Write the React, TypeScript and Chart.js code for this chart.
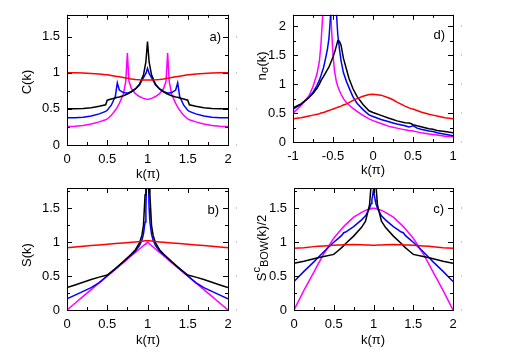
import React, { useEffect, useRef } from "react";
import { Chart, registerables } from "chart.js";

Chart.register(...registerables);

const FONT = "'Liberation Sans', Arial, Helvetica, sans-serif";

// ---------- Panel a: C(k) ----------
const aK = [0, 0.1, 0.2, 0.3, 0.4, 0.48, 0.5, 0.55, 0.6, 0.625, 0.65, 0.7, 0.73, 0.75, 0.77, 0.8, 0.85, 0.9, 0.95, 0.98, 1, 1.02, 1.05, 1.1, 1.15, 1.2, 1.23, 1.25, 1.27, 1.3, 1.35, 1.375, 1.4, 1.45, 1.5, 1.52, 1.6, 1.7, 1.8, 1.9, 2];
const aRed = [1.0, 1.0, 0.995, 0.99, 0.98, 0.972, 0.97, 0.962, 0.952, 0.947, 0.942, 0.932, 0.926, 0.922, 0.918, 0.912, 0.905, 0.901, 0.9, 0.9, 0.9, 0.9, 0.9, 0.901, 0.905, 0.912, 0.918, 0.922, 0.926, 0.932, 0.942, 0.947, 0.952, 0.962, 0.97, 0.972, 0.98, 0.99, 0.995, 1.0, 1.0];
const aBlack = [0.5, 0.5, 0.505, 0.515, 0.535, 0.556, 0.62, 0.635, 0.65, 0.66, 0.665, 0.68, 0.695, 0.705, 0.715, 0.735, 0.775, 0.84, 0.97, 1.15, 1.43, 1.15, 0.97, 0.84, 0.775, 0.735, 0.715, 0.705, 0.695, 0.68, 0.665, 0.66, 0.65, 0.635, 0.62, 0.556, 0.535, 0.515, 0.505, 0.5, 0.5];
const aBlue = [0.375, 0.378, 0.385, 0.4, 0.43, 0.465, 0.48, 0.55, 0.67, 0.86, 0.76, 0.725, 0.72, 0.72, 0.725, 0.74, 0.775, 0.83, 0.93, 0.99, 1.06, 0.99, 0.93, 0.83, 0.775, 0.74, 0.725, 0.72, 0.72, 0.725, 0.76, 0.86, 0.67, 0.55, 0.48, 0.465, 0.43, 0.4, 0.385, 0.378, 0.375];
const aMagenta = [0.255, 0.26, 0.27, 0.29, 0.32, 0.35, 0.36, 0.41, 0.48, 0.525, 0.575, 0.7, 0.88, 1.27, 0.88, 0.78, 0.71, 0.67, 0.645, 0.635, 0.63, 0.635, 0.645, 0.67, 0.71, 0.78, 0.88, 1.27, 0.88, 0.7, 0.575, 0.525, 0.48, 0.41, 0.36, 0.35, 0.32, 0.29, 0.27, 0.26, 0.255];

// ---------- Panel b: S(k) ----------
const bK = [0, 0.1, 0.2, 0.3, 0.4, 0.5, 0.6, 0.7, 0.8, 0.85, 0.9, 0.93, 0.95, 0.97, 0.98, 0.99, 1, 1.01, 1.02, 1.03, 1.05, 1.07, 1.1, 1.15, 1.2, 1.3, 1.4, 1.5, 1.6, 1.7, 1.8, 1.9, 2];
const bRed = [0.92, 0.93, 0.94, 0.95, 0.96, 0.97, 0.98, 0.99, 1.0, 1.005, 1.01, 1.015, 1.018, 1.02, 1.02, 1.02, 1.02, 1.02, 1.02, 1.02, 1.018, 1.015, 1.01, 1.005, 1.0, 0.99, 0.98, 0.97, 0.96, 0.95, 0.94, 0.93, 0.92];
const bBlack = [0.33, 0.37, 0.41, 0.45, 0.485, 0.515, 0.61, 0.715, 0.825, 0.89, 0.99, 1.1, 1.25, 1.7, 2.1, 2.6, 3.5, 2.6, 2.1, 1.7, 1.25, 1.1, 0.99, 0.89, 0.825, 0.715, 0.61, 0.515, 0.485, 0.45, 0.41, 0.37, 0.33];
const bBlue = [0.165, 0.22, 0.275, 0.33, 0.405, 0.505, 0.605, 0.71, 0.815, 0.87, 0.95, 1.03, 1.12, 1.3, 1.5, 2.0, 3.0, 2.0, 1.5, 1.3, 1.12, 1.03, 0.95, 0.87, 0.815, 0.71, 0.605, 0.505, 0.405, 0.33, 0.275, 0.22, 0.165];
const bMagenta = [0, 0.1, 0.2, 0.3, 0.4, 0.5, 0.6, 0.7, 0.8, 0.85, 0.9, 0.93, 0.95, 0.97, 0.98, 0.99, 1.0, 0.99, 0.98, 0.97, 0.95, 0.93, 0.9, 0.85, 0.8, 0.7, 0.6, 0.5, 0.4, 0.3, 0.2, 0.1, 0];

// ---------- Panel c: S^c_BOW(k)/2 ----------
const cK = [0, 0.125, 0.25, 0.3, 0.375, 0.5, 0.55, 0.6, 0.625, 0.65, 0.75, 0.85, 0.9, 0.95, 0.97, 0.98, 0.99, 1, 1.01, 1.02, 1.03, 1.05, 1.1, 1.15, 1.25, 1.35, 1.375, 1.4, 1.45, 1.5, 1.625, 1.7, 1.75, 1.875, 2];
const cRed = [0.91, 0.92, 0.935, 0.94, 0.945, 0.955, 0.958, 0.96, 0.962, 0.963, 0.965, 0.962, 0.96, 0.958, 0.957, 0.957, 0.957, 0.957, 0.957, 0.957, 0.957, 0.958, 0.96, 0.962, 0.965, 0.963, 0.962, 0.96, 0.958, 0.955, 0.945, 0.94, 0.935, 0.92, 0.91];
const cBlack = [0.69, 0.72, 0.755, 0.77, 0.79, 0.82, 0.87, 0.92, 0.95, 0.98, 1.09, 1.22, 1.31, 1.55, 1.85, 2.1, 2.4, 2.8, 2.4, 2.1, 1.85, 1.55, 1.31, 1.22, 1.09, 0.98, 0.95, 0.92, 0.87, 0.82, 0.79, 0.77, 0.755, 0.72, 0.69];
const cBlue = [0.42, 0.57, 0.71, 0.77, 0.86, 1.0, 1.05, 1.1, 1.14, 1.15, 1.23, 1.33, 1.39, 1.5, 1.57, 1.63, 1.7, 1.78, 1.7, 1.63, 1.57, 1.5, 1.39, 1.33, 1.23, 1.15, 1.14, 1.1, 1.05, 1.0, 0.86, 0.77, 0.71, 0.57, 0.42];
const cMagenta = [0, 0.29, 0.56, 0.67, 0.83, 1.06, 1.13, 1.2, 1.23, 1.26, 1.37, 1.44, 1.47, 1.49, 1.495, 1.498, 1.5, 1.5, 1.5, 1.498, 1.495, 1.49, 1.47, 1.44, 1.37, 1.26, 1.23, 1.2, 1.13, 1.06, 0.83, 0.67, 0.56, 0.29, 0];

// ---------- Panel d: n_sigma(k) ----------
const dK = [-1, -0.9, -0.8, -0.75, -0.7, -0.67, -0.65, -0.62, -0.6, -0.57, -0.55, -0.52, -0.5, -0.48, -0.46, -0.44, -0.42, -0.4, -0.37, -0.33, -0.3, -0.25, -0.2, -0.125, -0.05, 0, 0.1, 0.2, 0.25, 0.3, 0.4, 0.45, 0.48, 0.5, 0.55, 0.6, 0.7, 0.75, 0.8, 0.9, 1];
const dRed = [0.4, 0.42, 0.45, 0.465, 0.48, 0.49, 0.5, 0.51, 0.52, 0.535, 0.545, 0.56, 0.57, 0.58, 0.59, 0.6, 0.61, 0.62, 0.64, 0.66, 0.68, 0.72, 0.75, 0.79, 0.82, 0.825, 0.81, 0.76, 0.73, 0.69, 0.62, 0.59, 0.575, 0.57, 0.545, 0.52, 0.48, 0.465, 0.45, 0.42, 0.4];
const dBlack = [0.59, 0.66, 0.77, 0.84, 0.93, 1.0, 1.06, 1.13, 1.18, 1.25, 1.3, 1.4, 1.47, 1.55, 1.65, 1.75, 1.74, 1.68, 1.45, 1.25, 1.1, 0.92, 0.79, 0.65, 0.54, 0.51, 0.46, 0.41, 0.39, 0.365, 0.335, 0.33, 0.315, 0.3, 0.28, 0.265, 0.23, 0.22, 0.2, 0.18, 0.16];
const dBlue = [0.57, 0.65, 0.77, 0.86, 0.98, 1.07, 1.15, 1.28, 1.4, 1.6, 1.8, 2.4, 3.5, 3.0, 2.3, 1.85, 1.62, 1.41, 1.2, 1.04, 0.94, 0.78, 0.67, 0.56, 0.47, 0.44, 0.39, 0.35, 0.33, 0.31, 0.28, 0.26, 0.27, 0.285, 0.24, 0.22, 0.19, 0.18, 0.16, 0.135, 0.11];
const dMagenta = [0.5, 0.63, 0.8, 0.96, 1.18, 1.4, 1.7, 2.4, 4.0, 4.0, 3.0, 2.0, 1.5, 1.22, 1.06, 0.96, 0.89, 0.83, 0.75, 0.68, 0.64, 0.58, 0.53, 0.46, 0.4, 0.37, 0.32, 0.27, 0.255, 0.24, 0.21, 0.2, 0.195, 0.19, 0.175, 0.16, 0.14, 0.13, 0.12, 0.1, 0.09];

// ---------- ticks ----------
const kTicks02 = [0, 0.5, 1, 1.5, 2];
const kMinor02 = [0.25, 0.75, 1.25, 1.75];
const kTicksPm1 = [-1, -0.5, 0, 0.5, 1];
const kMinorPm1 = [-0.75, -0.25, 0.25, 0.75];
const yTicks18 = [0, 0.5, 1, 1.5];
const yMinor18 = [0.25, 0.75, 1.25, 1.75];
const yTicks22 = [0, 0.5, 1, 1.5, 2];
const yMinor22 = [0.25, 0.75, 1.25, 1.75];

const RED = "#ff0000";
const BLACK = "#000000";
const BLUE = "#0000ff";
const MAGENTA = "#ff00ff";

type Seg = { t: string; size?: number; dy?: number };

type PanelCfg = {
  plot: { l: number; r: number; t: number; b: number };
  k: number[];
  series: number[][];
  xMin: number;
  xMax: number;
  yMax: number;
  xTicks: number[];
  xMinor: number[];
  yTicks: number[];
  yMinor: number[];
  yTitle: Seg[];
  yTitlePos: [number, number];
  xTitlePos: [number, number];
  tag: string;
  tagPos: [number, number];
  dotX: number;
};

const W = 506;
const H = 354;
const FS = 13;
const AXW = 40;

function drawSegs(ctx: CanvasRenderingContext2D, segs: Seg[]) {
  let total = 0;
  const widths: number[] = [];
  segs.forEach((s) => {
    ctx.font = `${s.size ?? FS}px ${FONT}`;
    const w = ctx.measureText(s.t).width;
    widths.push(w);
    total += w;
  });
  let x = -total / 2;
  segs.forEach((s, i) => {
    ctx.font = `${s.size ?? FS}px ${FONT}`;
    ctx.fillText(s.t, x, s.dy ?? 0);
    x += widths[i];
  });
}

const decoPlugin = {
  id: "deco",
  afterDraw(chart: any, _args: any, opts: any) {
    const cfg: PanelCfg = opts.cfg;
    const { ctx, chartArea, scales } = chart;
    const { left, right, top, bottom } = chartArea;
    const xs = scales.x;
    const ys = scales.y;
    ctx.save();
    ctx.strokeStyle = "#000";
    ctx.lineWidth = 1;
    ctx.beginPath();
    const tick = (vals: number[], len: number, isX: boolean) => {
      vals.forEach((v) => {
        if (isX) {
          const p = Math.round(xs.getPixelForValue(v)) + 0.5;
          ctx.moveTo(p, bottom);
          ctx.lineTo(p, bottom - len);
          ctx.moveTo(p, top);
          ctx.lineTo(p, top + len);
        } else {
          const p = Math.round(ys.getPixelForValue(v)) + 0.5;
          ctx.moveTo(left, p);
          ctx.lineTo(left + len, p);
          ctx.moveTo(right, p);
          ctx.lineTo(right - len, p);
        }
      });
    };
    tick(cfg.xTicks, 5, true);
    tick(cfg.xMinor, 3, true);
    tick(cfg.yTicks, 5, false);
    tick(cfg.yMinor, 3, false);
    ctx.stroke();
    ctx.strokeRect(Math.round(left) + 0.5, Math.round(top) + 0.5, Math.round(right - left), Math.round(bottom - top));

    // faint marks to the right of the frame, at the major y ticks
    ctx.fillStyle = "#c8c8c8";
    cfg.yTicks.forEach((v) => {
      const p = Math.round(ys.getPixelForValue(v));
      ctx.fillRect(cfg.dotX, p - 1, 1, 2);
    });

    ctx.fillStyle = "#000";
    ctx.textBaseline = "middle";
    ctx.textAlign = "left";
    ctx.save();
    ctx.translate(cfg.yTitlePos[0], cfg.yTitlePos[1]);
    ctx.rotate(-Math.PI / 2);
    drawSegs(ctx, cfg.yTitle);
    ctx.restore();
    ctx.save();
    ctx.translate(cfg.xTitlePos[0], cfg.xTitlePos[1]);
    drawSegs(ctx, [{ t: "k(π)" }]);
    ctx.restore();
    ctx.font = `${FS}px ${FONT}`;
    ctx.textAlign = "right";
    ctx.fillText(cfg.tag, cfg.tagPos[0], cfg.tagPos[1]);
    ctx.restore();
  },
};

function makeConfig(cfg: PanelCfg): any {
  const colors = [RED, BLACK, BLUE, MAGENTA];
  const datasets = cfg.series.map((vals, i) => ({
    data: cfg.k.map((kv, j) => ({ x: kv, y: vals[j] })),
    borderColor: colors[i],
    borderWidth: 1.5,
    pointRadius: 0,
    tension: 0,
    fill: false,
  }));
  const fmt = (v: number | string) => String(Number(v));
  return {
    type: "line",
    data: { datasets },
    plugins: [decoPlugin],
    options: {
      animation: false,
      responsive: false,
      maintainAspectRatio: false,
      events: [],
      layout: {
        padding: { left: cfg.plot.l - AXW, top: cfg.plot.t, right: W - cfg.plot.r, bottom: H - cfg.plot.b - AXW },
      },
      plugins: { legend: { display: false }, tooltip: { enabled: false }, deco: { cfg } },
      scales: {
        x: {
          type: "linear",
          min: cfg.xMin,
          max: cfg.xMax,
          grid: { display: false, drawTicks: false },
          border: { display: false },
          afterBuildTicks: (s: any) => {
            s.ticks = cfg.xTicks.map((v) => ({ value: v }));
          },
          afterFit: (s: any) => {
            s.height = AXW;
          },
          ticks: { color: "#000", font: { family: FONT, size: FS }, padding: 7, maxRotation: 0, autoSkip: false, callback: fmt },
        },
        y: {
          type: "linear",
          min: 0,
          max: cfg.yMax,
          grid: { display: false, drawTicks: false },
          border: { display: false },
          afterBuildTicks: (s: any) => {
            s.ticks = cfg.yTicks.map((v) => ({ value: v }));
          },
          afterFit: (s: any) => {
            s.width = AXW;
          },
          ticks: { color: "#000", font: { family: FONT, size: FS }, padding: 7, autoSkip: false, callback: fmt },
        },
      },
    },
  };
}

const panels: PanelCfg[] = [
  {
    plot: { l: 67, r: 228, t: 14, b: 145 },
    k: aK, series: [aRed, aBlack, aBlue, aMagenta],
    xMin: 0, xMax: 2, yMax: 1.8,
    xTicks: kTicks02, xMinor: kMinor02, yTicks: yTicks18, yMinor: yMinor18,
    yTitle: [{ t: "C(k)" }], yTitlePos: [27, 82], xTitlePos: [148, 174],
    tag: "a)", tagPos: [221, 37], dotX: 236,
  },
  {
    plot: { l: 293, r: 453, t: 11, b: 142 },
    k: dK, series: [dRed, dBlack, dBlue, dMagenta],
    xMin: -1, xMax: 1, yMax: 2.2,
    xTicks: kTicksPm1, xMinor: kMinorPm1, yTicks: yTicks22, yMinor: yMinor22,
    yTitle: [{ t: "n" }, { t: "σ", size: 11, dy: 3 }, { t: "(k)" }], yTitlePos: [262, 66], xTitlePos: [373, 170],
    tag: "d)", tagPos: [445, 35], dotX: 461,
  },
  {
    plot: { l: 67, r: 228, t: 188, b: 310 },
    k: bK, series: [bRed, bBlack, bBlue, bMagenta],
    xMin: 0, xMax: 2, yMax: 1.8,
    xTicks: kTicks02, xMinor: kMinor02, yTicks: yTicks18, yMinor: yMinor18,
    yTitle: [{ t: "S(k)" }], yTitlePos: [27, 255], xTitlePos: [148, 340],
    tag: "b)", tagPos: [219, 210], dotX: 236,
  },
  {
    plot: { l: 294, r: 453, t: 188, b: 310 },
    k: cK, series: [cRed, cBlack, cBlue, cMagenta],
    xMin: 0, xMax: 2, yMax: 1.8,
    xTicks: kTicks02, xMinor: kMinor02, yTicks: yTicks18, yMinor: yMinor18,
    yTitle: [{ t: "S" }, { t: "c", size: 11, dy: -5 }, { t: "BOW", size: 11, dy: 3 }, { t: "(k)/2" }], yTitlePos: [262, 248], xTitlePos: [373, 340],
    tag: "c)", tagPos: [444, 209], dotX: 461,
  },
];

function Panel({ cfg }: { cfg: PanelCfg }) {
  const ref = useRef<HTMLCanvasElement>(null);
  useEffect(() => {
    const chart = new Chart(ref.current as HTMLCanvasElement, makeConfig(cfg));
    return () => chart.destroy();
  }, [cfg]);
  return (
    <canvas
      ref={ref}
      width={W}
      height={H}
      style={{ position: "absolute", left: 0, top: 0, width: W, height: H }}
    />
  );
}

export default function App() {
  return (
    <div style={{ position: "fixed", left: 0, top: 0, width: 506, height: 354, background: "#fff", overflow: "hidden" }}>
      {panels.map((p, i) => (
        <Panel key={i} cfg={p} />
      ))}
    </div>
  );
}
